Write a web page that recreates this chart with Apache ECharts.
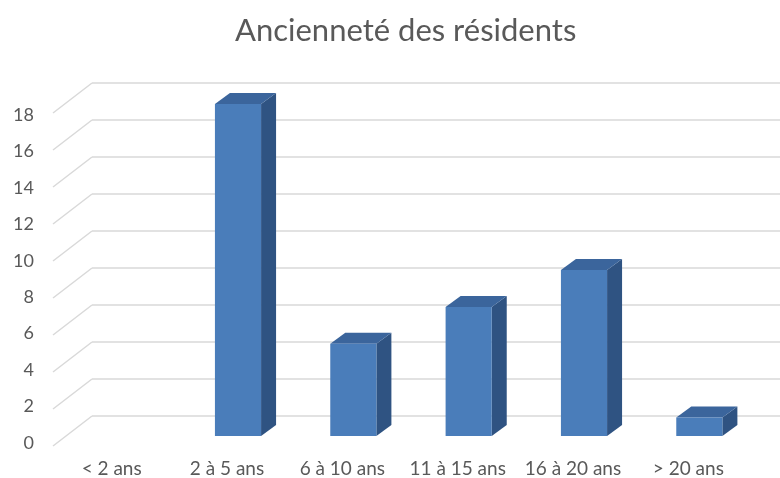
<!DOCTYPE html>
<html>
<head>
<meta charset="utf-8">
<script src="https://cdn.jsdelivr.net/npm/echarts@6/dist/echarts.min.js"></script>
<style>
  html, body { margin: 0; padding: 0; background: #fff; }
  #main { width: 780px; height: 478px; }
</style>
</head>
<body>
<div id="main"></div>
<script>
// data
var categories = ['< 2 ans', '2 à 5 ans', '6 à 10 ans', '11 à 15 ans', '16 à 20 ans', '> 20 ans']
var residents = [0, 18, 5, 7, 9, 1]
var yTicks = [0, 2, 4, 6, 8, 10, 12, 14, 16, 18]

var textColor = '#595959'
var gridColor = '#d9d9d9'
var font = 'Lato'

var chart = echarts.init(document.getElementById('main'))

var option = {
  animation: false,
  title: {
    text: 'Ancienneté des résidents',
    left: 230,
    top: 10,
    textStyle: { fontFamily: font, fontSize: 31, fontWeight: 'normal', color: textColor }
  },
  grid: [
    // back wall
    { left: 92, right: 0, top: 83, bottom: 62 },
    // bars (front faces)
    { left: 65, width: 692, top: 104, bottom: 42 },
    // y labels on the front edge
    { left: 53, width: 10, top: 115, bottom: 35 }
  ],
  xAxis: [
    { gridIndex: 0, type: 'value', min: 0, max: 1, show: false },
    {
      gridIndex: 1,
      type: 'category',
      data: categories,
      axisLine: { show: false },
      axisTick: { show: false },
      axisLabel: {
        interval: 0,
        hideOverlap: false,
        margin: 23,
        padding: [0, 22, 0, 0],
        color: textColor,
        fontFamily: font,
        fontSize: 19
      }
    },
    { gridIndex: 2, type: 'value', min: 0, max: 1, show: false }
  ],
  yAxis: [
    {
      gridIndex: 0,
      type: 'value',
      min: 0,
      max: 18,
      interval: 2,
      axisLabel: { show: false },
      axisLine: { show: false },
      axisTick: { show: false },
      splitLine: { lineStyle: { color: gridColor, width: 1.5 } }
    },
    {
      gridIndex: 1,
      type: 'value',
      min: 0,
      max: 18,
      interval: 2,
      show: false,
      splitLine: { show: false }
    },
    {
      gridIndex: 2,
      type: 'value',
      min: 0,
      max: 18,
      interval: 2,
      axisLine: { show: false },
      axisTick: { show: false },
      splitLine: { show: false },
      axisLabel: { margin: 19, color: textColor, fontFamily: font, fontSize: 18 }
    }
  ],
  series: [
    {
      // slanted part of the gridlines (side wall)
      type: 'custom',
      xAxisIndex: 0,
      yAxisIndex: 0,
      z: 1,
      data: yTicks.map(function (v) { return [0, v] }),
      renderItem: function (params, api) {
        var p = api.coord([0, api.value(1)])
        return {
          type: 'line',
          shape: { x1: p[0], y1: p[1], x2: p[0] - 39, y2: p[1] + 30 },
          style: { stroke: gridColor, lineWidth: 1.5 }
        }
      }
    },
    {
      type: 'custom',
      xAxisIndex: 1,
      yAxisIndex: 1,
      z: 5,
      data: residents.map(function (v, i) { return [i, v] }),
      renderItem: function (params, api) {
        var v = api.value(1)
        if (v <= 0) return
        var top = api.coord([api.value(0), v])
        var base = api.coord([api.value(0), 0])
        var w = api.size([1, 0])[0] * 0.4
        var dx = 15
        var dy = -11
        var x0 = top[0] - w / 2
        var x1 = top[0] + w / 2
        var yt = top[1]
        var yb = base[1]
        return {
          type: 'group',
          children: [
            {
              type: 'polygon',
              shape: { points: [[x1, yt], [x1 + dx, yt + dy], [x1 + dx, yb + dy], [x1, yb]] },
              style: { fill: '#2f5382' }
            },
            {
              type: 'polygon',
              shape: { points: [[x0, yt], [x0 + dx, yt + dy], [x1 + dx, yt + dy], [x1, yt]] },
              style: { fill: '#3b659c' }
            },
            {
              type: 'rect',
              shape: { x: x0, y: yt, width: w, height: yb - yt },
              style: { fill: '#4a7dba' }
            }
          ]
        }
      }
    }
  ]
}

chart.setOption(option)
</script>
</body>
</html>
